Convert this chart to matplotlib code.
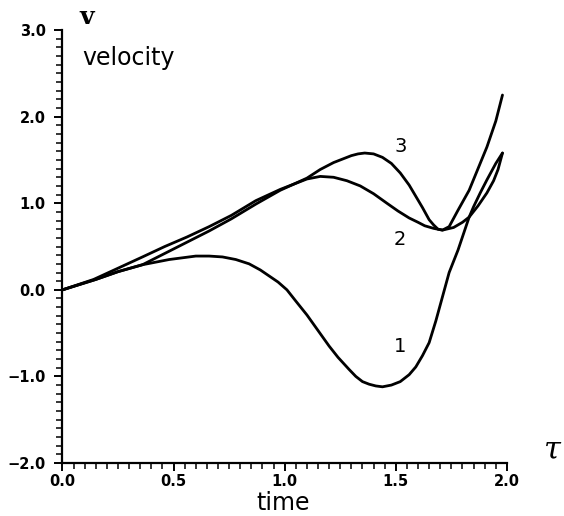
import numpy as np
import matplotlib.pyplot as plt
from matplotlib.ticker import MultipleLocator

# Curvas (t, v)
t1 = [0.0, 0.15, 0.25, 0.36, 0.48, 0.60, 0.66, 0.72, 0.78, 0.84, 0.89, 0.93,
      0.97, 1.01, 1.05, 1.10, 1.15, 1.20, 1.24, 1.29, 1.32, 1.35, 1.38, 1.41,
      1.44, 1.48, 1.52, 1.56, 1.59, 1.62, 1.65, 1.68, 1.71, 1.74, 1.78, 1.83,
      1.85, 1.88, 1.91, 1.95, 1.98]
v1 = [0.0, 0.12, 0.21, 0.29, 0.35, 0.39, 0.39, 0.38, 0.35, 0.30, 0.23, 0.16,
      0.09, 0.0, -0.13, -0.29, -0.47, -0.65, -0.78, -0.92, -1.00, -1.06, -1.09, -1.11,
      -1.12, -1.10, -1.06, -0.98, -0.89, -0.76, -0.61, -0.36, -0.08, 0.20, 0.46, 0.84,
      0.96, 1.12, 1.27, 1.46, 1.58]

t2 = [0.0, 0.15, 0.25, 0.36, 0.46, 0.56, 0.66, 0.76, 0.87, 0.98, 1.04, 1.10,
      1.16, 1.22, 1.28, 1.34, 1.40, 1.46, 1.51, 1.56, 1.60, 1.63, 1.67, 1.71,
      1.76, 1.80, 1.83, 1.87, 1.91, 1.94, 1.96, 1.98]
v2 = [0.0, 0.12, 0.21, 0.29, 0.42, 0.55, 0.68, 0.82, 0.99, 1.15, 1.22, 1.28,
      1.31, 1.30, 1.26, 1.20, 1.11, 1.00, 0.91, 0.83, 0.78, 0.74, 0.71, 0.69,
      0.72, 0.78, 0.84, 0.97, 1.12, 1.26, 1.39, 1.58]

t3 = [0.0, 0.14, 0.25, 0.36, 0.46, 0.56, 0.66, 0.76, 0.87, 0.98, 1.04, 1.10,
      1.16, 1.22, 1.26, 1.30, 1.33, 1.36, 1.40, 1.44, 1.48, 1.52, 1.56, 1.59,
      1.62, 1.65, 1.67, 1.69, 1.71, 1.74, 1.78, 1.83, 1.87, 1.91, 1.95, 1.98]
v3 = [0.0, 0.12, 0.25, 0.38, 0.50, 0.61, 0.73, 0.86, 1.03, 1.16, 1.22, 1.29,
      1.39, 1.47, 1.51, 1.55, 1.57, 1.58, 1.57, 1.53, 1.46, 1.35, 1.21, 1.08,
      0.95, 0.81, 0.75, 0.70, 0.69, 0.73, 0.92, 1.15, 1.40, 1.65, 1.95, 2.25]

curvas = [(t1, v1, '1', -0.66), (t2, v2, '2', 0.58), (t3, v3, '3', 1.66)]
x_etiqueta = 1.52

fig = plt.figure(figsize=(5.64, 5.16), dpi=100)
ax = fig.add_axes([0.1108, 0.1027, 0.788, 0.839])

for t, v, nombre, y_lab in curvas:
    ax.plot(t, v, color='black', lw=2.0, solid_joinstyle='round',
            solid_capstyle='round')
    ax.text(x_etiqueta, y_lab, nombre, fontsize=14, ha='center', va='center')

ax.set_xlim(0, 2.0)
ax.set_ylim(-2.0, 3.0)
ax.spines['top'].set_visible(False)
ax.spines['right'].set_visible(False)
ax.spines['left'].set_linewidth(1.6)
ax.spines['bottom'].set_linewidth(1.6)

ax.xaxis.set_major_locator(MultipleLocator(0.5))
ax.xaxis.set_minor_locator(MultipleLocator(0.05))
ax.yaxis.set_major_locator(MultipleLocator(1.0))
ax.yaxis.set_minor_locator(MultipleLocator(0.1))
ax.xaxis.set_major_formatter('{x:.1f}')
ax.yaxis.set_major_formatter('{x:.1f}')
ax.tick_params(which='major', direction='out', length=6, width=1.4,
               labelsize=10.5)
ax.tick_params(axis='x', which='major', pad=2)
ax.tick_params(axis='y', which='major', pad=6)
ax.tick_params(which='minor', direction='out', length=4, width=1.1)
for lab in ax.get_xticklabels() + ax.get_yticklabels():
    lab.set_fontweight('bold')

ax.text(0.055, 1.03, 'v', transform=ax.transAxes, fontsize=18,
        family='DejaVu Serif', fontweight='bold', ha='center', va='center')
ax.text(0.044, 0.935, 'velocity', transform=ax.transAxes, fontsize=17,
        ha='left', va='center')
ax.text(0.496, -0.092, 'time', transform=ax.transAxes, fontsize=17,
        ha='center', va='center')
ax.text(1.103, 0.03, 'τ', transform=ax.transAxes, fontsize=22,
        family='DejaVu Serif', style='italic', ha='center', va='center')

fig.savefig('out.png', dpi=100)
